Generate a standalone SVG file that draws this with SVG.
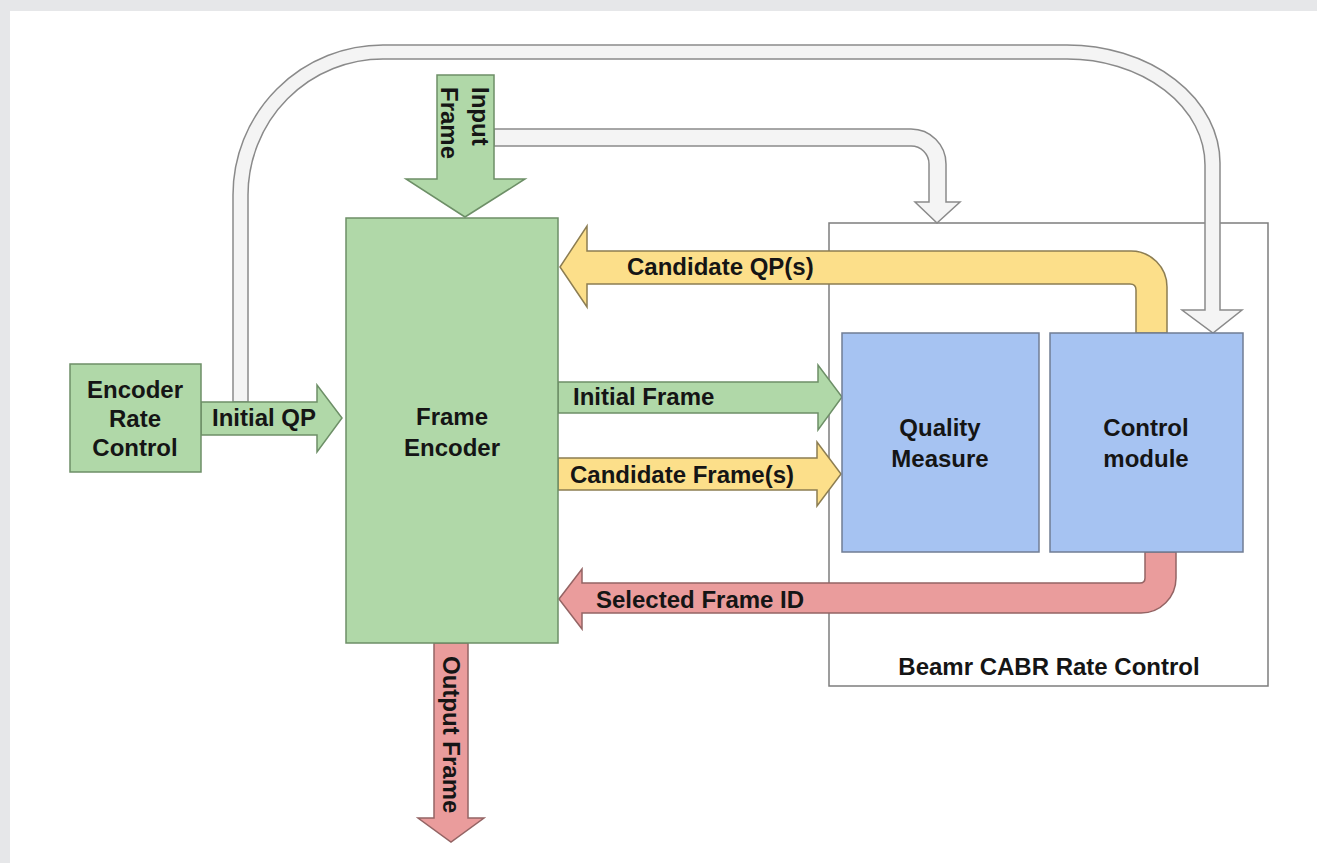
<svg xmlns="http://www.w3.org/2000/svg" width="1317" height="863" viewBox="0 0 1317 863">
<style>
.t{font-family:"Liberation Sans",Arial,sans-serif;font-weight:bold;font-size:24px;fill:#151515}
.c{text-anchor:middle}
.g{fill:#b0d8a8;stroke:#6d8f67;stroke-width:1.5}
.b{fill:#a6c3f2;stroke:#707d94;stroke-width:1.5}
.y{fill:#fcdf8a;stroke:#8c7d52;stroke-width:1.5}
.r{fill:#ea9c9c;stroke:#946464;stroke-width:1.5}
.w{fill:#f4f4f4;stroke:#8a8a8a;stroke-width:1.5}
</style>
<rect x="0" y="0" width="1317" height="863" fill="#e6e7e9"/>
<rect x="10" y="11" width="1307" height="852" fill="#ffffff"/>

<g id="beamr-cabr">
<rect x="829" y="223" width="439" height="463" fill="#ffffff" stroke="#7d7d7d" stroke-width="1.5"/>
<text class="t c" x="1049" y="675">Beamr CABR Rate Control</text>
</g>

<g id="connectors">
<path class="w" d="M233,402 V195 A150,150 0 0 1 383,45 H1067 A153,118 0 0 1 1220,163 V310 H1242 L1213,333 L1182,310 H1205 V165 A138,106 0 0 0 1067,59 H383 A135,136 0 0 0 248,195 V402 Z"/>
<path class="w" d="M494,129 H911 A35,35 0 0 1 946,164 V202 H960 L937,223 L915,202 H929 V164 A18,18 0 0 0 911,146 H494 Z"/>
<path class="g" d="M201,402 H317 V385 L342,418 L317,452 V435 H201 Z"/>
<path class="g" d="M437,75 H494 V179 H525 L465,217 L406,179 H437 Z"/>
<path class="g" d="M558,382 H818 V365 L842,397 L818,430 V413 H558 Z"/>
<path class="y" d="M558,458 H817 V442 L841,474 L817,506 V490 H558 Z"/>
<path class="y" d="M560,267 L587,226 V251 H1131 A36,36 0 0 1 1167,287 V333 H1136 V290 Q1136,284 1130,284 H587 V307 Z"/>
<path class="r" d="M559,599 L582,569 V583 H1140 Q1145,583 1145,578 V552 H1176 V578 A35,35 0 0 1 1141,613 H582 V629 Z"/>
<path class="r" d="M434,643 H468 V818 H484 L451,842 L418,818 H434 Z"/>
<text class="t" x="212" y="426">Initial QP</text>
<text class="t" transform="translate(472,87) rotate(90)"><tspan x="0" y="0">Input</tspan><tspan x="0" y="31">Frame</tspan></text>
<text class="t" x="573" y="405">Initial Frame</text>
<text class="t" x="570" y="483">Candidate Frame(s)</text>
<text class="t" x="627" y="275">Candidate QP(s)</text>
<text class="t" x="596" y="608">Selected Frame ID</text>
<text class="t" transform="translate(443,656) rotate(90)" x="0" y="0">Output Frame</text>
</g>

<g id="encoder-rate-control">
<rect class="g" x="70" y="364" width="131" height="108"/>
<text class="t c" x="135" y="398">Encoder</text>
<text class="t c" x="135" y="427">Rate</text>
<text class="t c" x="135" y="456">Control</text>
</g>

<g id="frame-encoder">
<rect class="g" x="346" y="218" width="212" height="425"/>
<text class="t c" x="452" y="425">Frame</text>
<text class="t c" x="452" y="456">Encoder</text>
</g>

<g id="quality-measure">
<rect class="b" x="842" y="333" width="197" height="219"/>
<text class="t c" x="940" y="436">Quality</text>
<text class="t c" x="940" y="467">Measure</text>
</g>

<g id="control-module">
<rect class="b" x="1050" y="333" width="193" height="219"/>
<text class="t c" x="1146" y="436">Control</text>
<text class="t c" x="1146" y="467">module</text>
</g>
</svg>
